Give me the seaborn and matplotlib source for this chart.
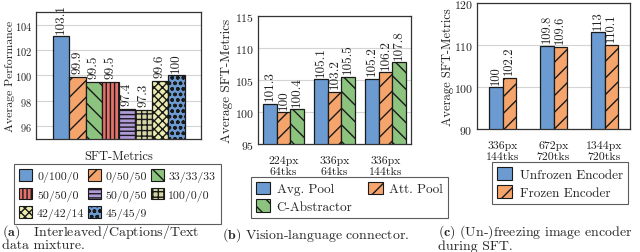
import matplotlib
matplotlib.use("Agg")
import matplotlib.pyplot as plt
from matplotlib.patches import Patch
import seaborn as sns
import pandas as pd

# ---------------- data ----------------
mix_labels = ['0/100/0', '0/50/50', '33/33/33', '50/50/0', '50/0/50', '100/0/0', '42/42/14', '45/45/9']
mix_values = [103.1, 99.9, 99.5, 99.5, 97.4, 97.3, 99.6, 100]
mix_category = ['SFT-Metrics']

conn_cats = ['224px\n64tks', '336px\n64tks', '336px\n144tks']
conn_series = ['Avg. Pool', 'Att. Pool', 'C-Abstractor']
avg_pool = [101.3, 105.1, 105.2]
att_pool = [100, 103.2, 106.2]
c_abstractor = [100.4, 105.5, 107.8]

enc_cats = ['336px\n144tks', '672px\n720tks', '1344px\n720tks']
enc_series = ['Unfrozen Encoder', 'Frozen Encoder']
unfrozen = [100, 109.8, 113]
frozen = [102.2, 109.6, 110.1]

# ---------------- style ----------------
sns.set_theme(style="white")
plt.rcParams['font.family'] = ['cmr10', 'DejaVu Serif']
plt.rcParams['mathtext.fontset'] = 'cm'
plt.rcParams['axes.formatter.use_mathtext'] = True
plt.rcParams['hatch.linewidth'] = 1.0

BLUE = '#6c9bd2'
ORANGE = '#f5a56c'
GREEN = '#8cc37f'
RED = '#e4726a'
PURPLE = '#b09ad8'
KHAKI = '#d6d6a6'
YELLOW = '#ececb0'
BLUE2 = '#6c9bd2'
EDGE = '#1a1a1a'
TXT = '#222222'

mix_colors = [BLUE, ORANGE, GREEN, RED, PURPLE, KHAKI, YELLOW, BLUE2]
mix_hatches = ['', '//', '\\\\', '||||', '----', '+++', 'xxxx', 'ooo']

fig = plt.figure(figsize=(6.4, 2.53), dpi=100)
W, H = 640.0, 253.0


def axrect(x0, y0, x1, y1):
    return [x0 / W, 1 - y1 / H, (x1 - x0) / W, (y1 - y0) / H]


def style_ax(ax, ylim, yticks, ylabel, fs_ytick, fs_xtick, fs_lab, label_x):
    ax.set_ylim(*ylim)
    ax.set_yticks(yticks)
    ax.grid(axis='y', color='#d4d4d4', linewidth=0.8)
    ax.set_axisbelow(True)
    for s in ax.spines.values():
        s.set_color('#333333')
        s.set_linewidth(0.9)
    ax.tick_params(axis='both', length=0, colors=TXT)
    ax.tick_params(axis='y', pad=3, labelsize=fs_ytick)
    ax.tick_params(axis='x', pad=8, labelsize=fs_xtick)
    ax.set_ylabel(ylabel, fontsize=fs_lab, color=TXT)
    ax.yaxis.set_label_coords(label_x, 0.5)
    ax.set_xlabel('')


def add_values(ax, fs):
    for cont in ax.containers:
        labels = [f"{p.get_height():g}" for p in cont]
        ax.bar_label(cont, labels=labels, rotation=90, padding=2.5, fontsize=fs, color=TXT)


LEGKW = dict(loc='upper left', frameon=True, fancybox=False, edgecolor='#333333',
             handlelength=1.1, handleheight=1.1, borderaxespad=0)

# ---------------- (a) ----------------
axa = fig.add_axes(axrect(36, 13, 201, 140))
df_a = pd.DataFrame({'metric': mix_category * len(mix_labels), 'mix': mix_labels, 'value': mix_values})
sns.barplot(data=df_a, x='metric', y='value', hue='mix', hue_order=mix_labels,
            palette=mix_colors, saturation=1, edgecolor=EDGE, linewidth=0.9,
            legend=False, ax=axa)
for cont, h in zip(axa.containers, mix_hatches):
    for p in cont:
        p.set_hatch(h)
style_ax(axa, (95, 105), [96, 98, 100, 102, 104], 'Average Performance', 7.5, 9, 8.5, (15 - 36) / 165)
add_values(axa, 9.5)

handles_a = [Patch(facecolor=c, edgecolor=EDGE, hatch=h, linewidth=0.8, label=l)
             for c, h, l in zip(mix_colors, mix_hatches, mix_labels)]
order = [0, 3, 6, 1, 4, 7, 2, 5]
leg_a = fig.legend([handles_a[i] for i in order], [mix_labels[i] for i in order],
                   bbox_to_anchor=(14 / W, 1 - 165 / H), ncol=3, fontsize=8.5,
                   handletextpad=0.4, columnspacing=0.3, labelspacing=0.5,
                   borderpad=0.45, **LEGKW)
leg_a.get_frame().set_linewidth(0.8)

# ---------------- (b) ----------------
axb = fig.add_axes(axrect(258, 17, 411, 145))
df_b = pd.DataFrame({
    'cat': conn_cats * 3,
    'series': [s for s in conn_series for _ in conn_cats],
    'value': avg_pool + att_pool + c_abstractor,
})
b_colors = [BLUE, ORANGE, GREEN]
b_hatches = ['', '//', '\\\\']
sns.barplot(data=df_b, x='cat', y='value', hue='series', hue_order=conn_series,
            palette=b_colors, saturation=1, edgecolor=EDGE, linewidth=0.9,
            legend=False, ax=axb)
for cont, h in zip(axb.containers, b_hatches):
    for p in cont:
        p.set_hatch(h)
style_ax(axb, (95, 115), [95, 100, 105, 110, 115], 'Average SFT-Metrics', 8.5, 8.5, 9.5, (233 - 258) / 153)
add_values(axb, 9.5)
handles_b = [Patch(facecolor=c, edgecolor=EDGE, hatch=h, linewidth=0.8, label=l)
             for c, h, l in zip(b_colors, b_hatches, conn_series)]
ob = [0, 2, 1]
leg_b = fig.legend([handles_b[i] for i in ob], [conn_series[i] for i in ob],
                   bbox_to_anchor=(251 / W, 1 - 178 / H), ncol=2, fontsize=9.5,
                   handletextpad=0.5, columnspacing=1.2, labelspacing=0.3,
                   borderpad=0.35, **LEGKW)
leg_b.get_frame().set_linewidth(0.8)

# ---------------- (c) ----------------
axc = fig.add_axes(axrect(477, 4, 630, 130))
df_c = pd.DataFrame({
    'cat': enc_cats * 2,
    'series': [s for s in enc_series for _ in enc_cats],
    'value': unfrozen + frozen,
})
c_colors = [BLUE, ORANGE]
c_hatches = ['', '//']
sns.barplot(data=df_c, x='cat', y='value', hue='series', hue_order=enc_series,
            palette=c_colors, saturation=1, edgecolor=EDGE, linewidth=0.9,
            width=0.52, legend=False, ax=axc)
for cont, h in zip(axc.containers, c_hatches):
    for p in cont:
        p.set_hatch(h)
style_ax(axc, (90, 120), [90, 100, 110, 120], 'Average SFT-Metrics', 8.5, 8.5, 9, (454 - 477) / 153)
add_values(axc, 9)
handles_c = [Patch(facecolor=c, edgecolor=EDGE, hatch=h, linewidth=0.8, label=l)
             for c, h, l in zip(c_colors, c_hatches, enc_series)]
leg_c = fig.legend(handles_c, enc_series,
                   bbox_to_anchor=(492 / W, 1 - 163 / H), ncol=1, fontsize=9.5,
                   handletextpad=0.6, labelspacing=0.3, borderpad=0.4, **LEGKW)
leg_c.get_frame().set_linewidth(0.8)

# ---------------- captions ----------------
CAP = 10
fig.text(2 / W, 1 - 223 / H, r'$\mathbf{(a)}$   Interleaved/Captions/Text' + '\n' + 'data mixture.',
         fontsize=CAP, va='top', ha='left', linespacing=0.95)
fig.text(222 / W, 1 - 235 / H, r'$\mathbf{(b)}$ Vision-language connector.',
         fontsize=CAP, va='center', ha='left')
fig.text(438 / W, 1 - 223 / H, r'$\mathbf{(c)}$ (Un-)freezing image encoder' + '\n' + 'during SFT.',
         fontsize=CAP, va='top', ha='left', linespacing=0.95)

fig.savefig('out.png', dpi=100)
